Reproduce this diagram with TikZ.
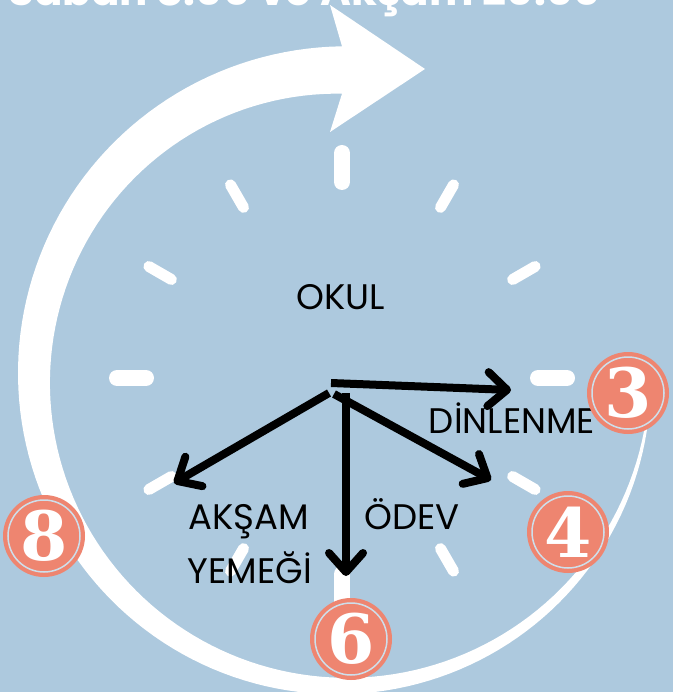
\documentclass[tikz,border=0pt]{standalone}
\usepackage{fontspec}
\setmainfont{Poppins}
\newfontfamily\digitfont{DejaVu Serif}
\usetikzlibrary{arrows.meta}
\definecolor{bg}{RGB}{173,201,222}
\definecolor{salmon}{RGB}{238,133,112}
\begin{document}
\begin{tikzpicture}[x=1pt,y=-1pt,
  majortick/.style={white,line width=16pt,line cap=round},
  minortick/.style={white,line width=11pt,line cap=round},
  hand/.style={black,line width=8pt,-{Straight Barb[length=19pt,width=34pt,round]}},
  lbl/.style={font=\fontsize{35.5}{35.5}\selectfont,text=black,inner sep=0pt,anchor=base},
  numc/.style={circle,fill=salmon,minimum size=82pt,inner sep=0pt,text=white,
    font=\digitfont\bfseries\fontsize{68}{68}\selectfont},
  ring/.style={draw=bg!60!white,line width=1.5pt}]
\useasboundingbox (0,0) rectangle (673,692);
\fill[bg] (0,0) rectangle (673,692);
% title
\node[anchor=base east,inner sep=0pt,text=white,font=\bfseries\fontsize{42}{42}\selectfont] (title) at (601,6) {Sabah 8.00 ve Akşam 20.00};
% big circular arrow
\fill[white] plot[domain=-6:-270,samples=133] ({342+(308+0.5*(2+0.172*(-6-\x)))*cos(\x)},{378-(308+0.5*(2+0.172*(-6-\x)))*sin(\x)})
  -- (330,5) -- (425,69) -- (330,132)
  -- plot[domain=-270:-6,samples=133] ({342+(308-0.5*(2+0.172*(-6-\x)))*cos(\x)},{378-(308-0.5*(2+0.172*(-6-\x)))*sin(\x)}) -- cycle;
% ticks
\foreach \a in {90,0,-90,180}
  \draw[majortick] ({342+196*cos(\a)},{378-196*sin(\a)}) -- ({342+225*cos(\a)},{378-225*sin(\a)});
\foreach \a in {60,30,-30,-60,-120,-150,150,120}
  \draw[minortick] ({342+197*cos(\a)},{378-197*sin(\a)}) -- ({342+223*cos(\a)},{378-223*sin(\a)});
% labels
\node[lbl] (okul) at (341,309) {OKUL};
\node[lbl] (dinlenme) at (512,433) {DİNLENME};
\node[lbl] (odev) at (412,529) {ÖDEV};
\node[lbl] (aksam) at (249,529) {AKŞAM};
\node[lbl] (yemegi) at (250,583) {YEMEĞİ};
% hands
\coordinate (o3) at (331,383); \coordinate (e3) at (511,390);
\coordinate (o6) at (346,393); \coordinate (e6) at (346,576);
\coordinate (o4) at (334,394); \coordinate (e4) at (491,480);
\coordinate (o8) at (329,393); \coordinate (e8) at (174,483);
\draw[hand] (o3) -- (e3);
\draw[hand] (o6) -- (e6);
\draw[hand] (o4) -- (e4);
\draw[hand] (o8) -- (e8);
% number circles
\node[numc] (n3) at (628,393) {3};
\node[numc] (n4) at (568,532) {4};
\node[numc] (n6) at (351,639) {6};
\node[numc] (n8) at (44,536) {8};
\foreach \n in {n3,n4,n6,n8} \draw[ring] (\n.center) circle (36pt);
\end{tikzpicture}
\end{document}
